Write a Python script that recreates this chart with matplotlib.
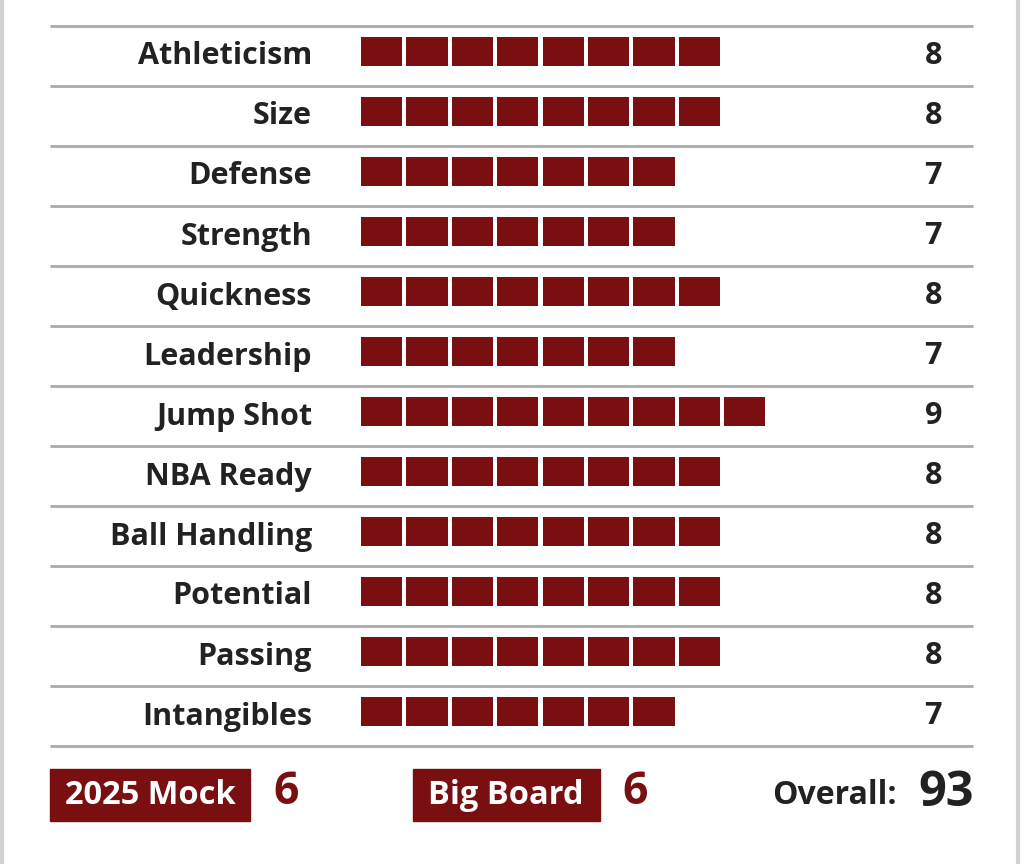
import matplotlib
matplotlib.use("Agg")
import matplotlib.pyplot as plt
from matplotlib.patches import Rectangle

# ratings data
skills = ["Athleticism", "Size", "Defense", "Strength", "Quickness", "Leadership",
          "Jump Shot", "NBA Ready", "Ball Handling", "Potential", "Passing", "Intangibles"]
scores = [8, 8, 7, 7, 8, 7, 9, 8, 8, 8, 8, 7]
mock_rank = 6
board_rank = 6
overall = 93

RED = "#7a0f12"
DARK = "#222222"
GRID = "#aaaaaa"
FONT = "Open Sans"

W, H = 1024, 864
fig = plt.figure(figsize=(W / 100, H / 100), dpi=100)
ax = fig.add_axes([0, 0, 1, 1])
ax.set_xlim(0, W)
ax.set_ylim(H, 0)
ax.axis("off")

# side borders
ax.axvline(1.5, color="#d0d0d0", lw=3)
ax.axvline(1018, color="#d0d0d0", lw=3)

top, row_h = 26, 60
x0, pitch, gap, block_h = 361, 45.4, 4.3, 28.5

for i, (name, s) in enumerate(zip(skills, scores)):
    yc = top + row_h * (i + 0.5)
    ax.plot([50, 973], [top + row_h * i] * 2, color=GRID, lw=2, solid_capstyle="butt")
    lefts = [x0 + k * pitch for k in range(s)]
    ax.barh([yc - 4.3] * s, [pitch - gap] * s, left=lefts, height=block_h, color=RED)
    ax.text(312, yc + 0.5, name, ha="right", va="center", fontsize=22,
            fontweight="bold", color=DARK, family=FONT)
    ax.text(942, yc + 0.5, str(s), ha="right", va="center", fontsize=22,
            fontweight="bold", color=DARK, family=FONT)
ax.plot([50, 973], [top + row_h * len(skills)] * 2, color=GRID, lw=2, solid_capstyle="butt")

# bottom summary
yb = 795
ax.add_patch(Rectangle((50, 769), 200, 52, color=RED))
ax.text(150, yb, "2025 Mock", ha="center", va="center", fontsize=23.5,
        fontweight="bold", color="white", family=FONT)
ax.text(273, yb - 2, str(mock_rank), ha="left", va="center", fontsize=32,
        fontweight="bold", color=RED, family=FONT)

ax.add_patch(Rectangle((413, 769), 187, 52, color=RED))
ax.text(506, yb, "Big Board", ha="center", va="center", fontsize=23.5,
        fontweight="bold", color="white", family=FONT)
ax.text(622, yb - 2, str(board_rank), ha="left", va="center", fontsize=32,
        fontweight="bold", color=RED, family=FONT)

ax.text(897, yb, "Overall:", ha="right", va="center", fontsize=23,
        fontweight="bold", color=DARK, family=FONT)
ax.text(974, yb - 2, str(overall), ha="right", va="center", fontsize=35,
        fontweight="bold", color=DARK, family=FONT)

fig.savefig("out.png", dpi=100, facecolor="white")
